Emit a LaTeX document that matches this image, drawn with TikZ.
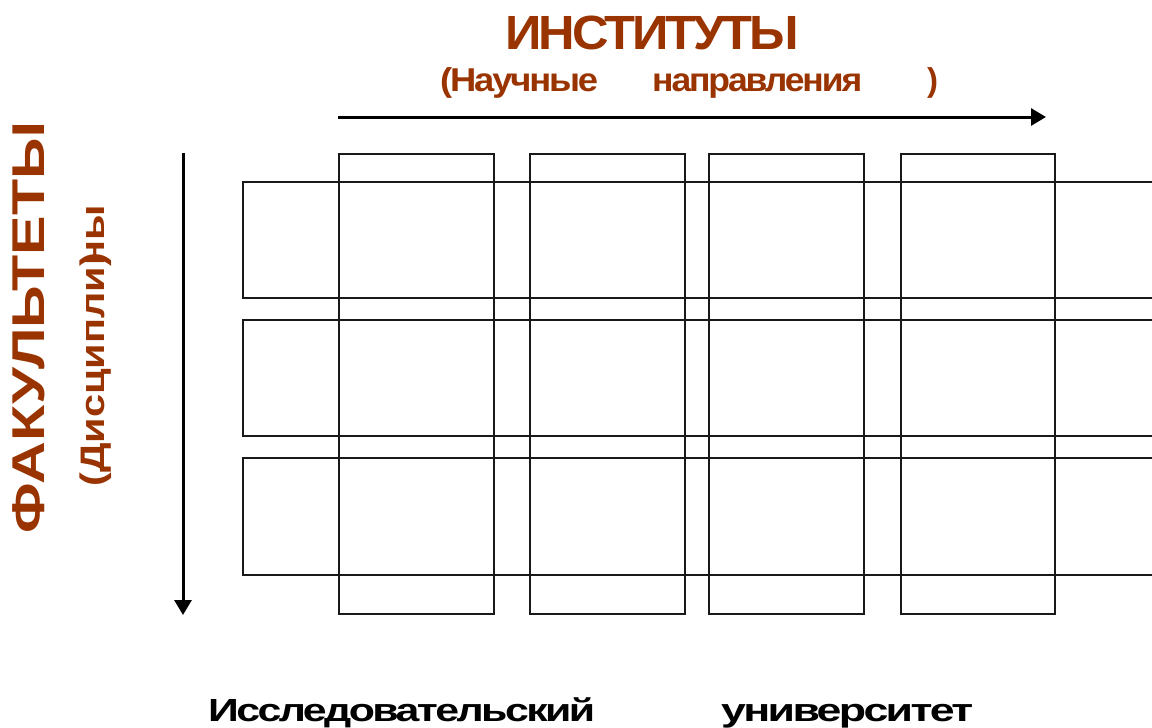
\documentclass[tikz,border=0pt]{standalone}
\usepackage{fontspec}
\setmainfont{Liberation Sans}
\newfontfamily\tightfont[LetterSpace=-6]{Liberation Sans}
\newfontfamily\normfont{Liberation Sans}
\usetikzlibrary{arrows.meta}
\definecolor{brown}{HTML}{993300}
\newcommand{\wfit}[2]{\resizebox{#1}{\height}{#2}}
\tikzset{
  cell/.style={draw=black!90, line width=1.2pt},
  axis/.style={line width=3pt, -{Triangle[width=17pt,length=15pt]}},
  title/.style={text=brown, inner sep=0pt, font=\tightfont\bfseries\fontsize{48}{48}\selectfont},
  sub/.style={text=brown, inner sep=0pt, font=\tightfont\bfseries\fontsize{33}{33}\selectfont},
  vtitle/.style={text=brown, inner sep=0pt, rotate=90, font=\normfont\bfseries\fontsize{46}{46}\selectfont},
  vsub/.style={text=brown, inner sep=0pt, rotate=90, font=\normfont\bfseries\fontsize{34}{34}\selectfont},
  bottom/.style={text=black, inner sep=0pt, font=\tightfont\bfseries\fontsize{32}{32}\selectfont},
}
\begin{document}
\begin{tikzpicture}[x=1pt,y=-1pt]
\useasboundingbox (0,0) rectangle (1152,728);
% columns
\foreach \a/\b in {339/494,530/685,709/864,901/1055}
  \draw[cell] (\a,154) rectangle (\b,614);
% rows
\foreach \c/\d in {182/298,320/436,458/575}
  \draw[cell] (243,\c) rectangle (1170,\d);
% axes
\coordinate (hs) at (338,117);
\coordinate (he) at (1046,117);
\coordinate (vs) at (183,153);
\coordinate (ve) at (183,615);
\draw[axis] (hs) -- (he);
\draw[axis] (vs) -- (ve);
% texts
\node[title, anchor=base west] (inst) at (505,49) {\wfit{294pt}{ИНСТИТУТЫ}};
\node[sub, anchor=base west] (nauch) at (440,91) {\wfit{158pt}{(Научные}};
\node[sub, anchor=base west] (napr) at (652,91) {\wfit{210pt}{направления}};
\node[sub, anchor=base west] (par) at (927,91) {)};
\node[vtitle, anchor=base west] (fak) at (45,534) {\wfit{412pt}{ФАКУЛЬТЕТЫ}};
\node[vsub, anchor=base west] (disc) at (104,487) {\wfit{282pt}{(Дисципли)\kern-10pt ны}};
\node[bottom, anchor=base west] (issl) at (208,721) {\wfit{387pt}{Исследовательский}};
\node[bottom, anchor=base west] (univ) at (721,721) {\wfit{252pt}{университет}};
\end{tikzpicture}
\end{document}
